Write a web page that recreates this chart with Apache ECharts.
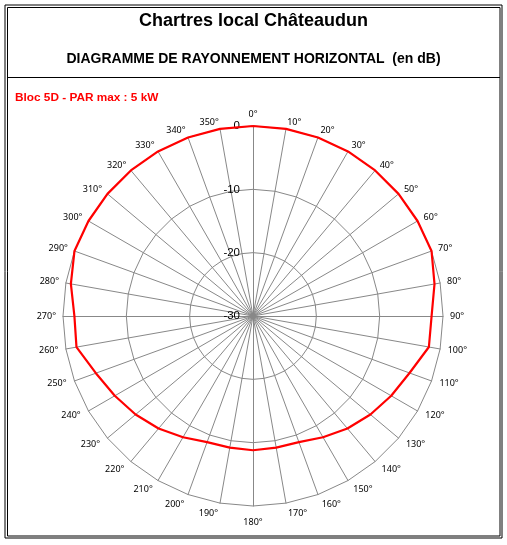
<!DOCTYPE html>
<html>
<head>
<meta charset="utf-8">
<script src="https://cdn.jsdelivr.net/npm/echarts@6/dist/echarts.min.js"></script>
<style>
html,body{margin:0;padding:0;background:#fff;}
#chart{width:507px;height:545px;}
</style>
</head>
<body>
<div id="chart"></div>
<script>
// Azimuth categories (degrees, clockwise from north)
const azimuths = [0,10,20,30,40,50,60,70,80,90,100,110,120,130,140,150,160,170,180,190,200,210,220,230,240,250,260,270,280,290,300,310,320,330,340,350];
// Relative attenuation in dB for each azimuth
const attenuation = [0,0,0,0,0,0,0,0,-0.9,-1.8,-1.8,-3.7,-4.8,-5.8,-6.8,-7.9,-8.8,-8.9,-8.8,-8.9,-8.8,-7.9,-6.8,-5.8,-4.8,-3.6,-1.7,-1.8,-0.8,0,0,0,0,0,0,0];
// Radial tick labels (dB)
const dbTicks = [0,-10,-20,-30];

const titleText = 'Chartres local Châteaudun';
const subtitleText = 'DIAGRAMME DE RAYONNEMENT HORIZONTAL  (en dB)';
const seriesName = 'Bloc 5D - PAR max : 5 kW';

// ECharts radar runs counter-clockwise: reorder so azimuths run clockwise
const order = azimuths.map((_, i) => (azimuths.length - i) % azimuths.length);
const dbMin = Math.min(...dbTicks), dbMax = Math.max(...dbTicks);

const indicators = order.map((idx, k) => {
  const az = azimuths[idx];
  const c = Math.cos(az * Math.PI / 180);
  const ind = { name: az + '°', min: dbMin, max: dbMax,
                nameGap: 7 + (az === 180 ? 0 : 4 * Math.max(0, -c)) };
  if (az > 90 && az < 270) {
    ind.nameTextStyle = { padding: [5, 0, 0, 0] };
  }
  if (k === 0) {
    ind.axisLabel = {
      show: true, color: '#000', fontFamily: 'Liberation Sans', fontSize: 11.5,
      margin: 13, showMinLabel: true, showMaxLabel: true
    };
  }
  return ind;
});
const values = order.map(idx => attenuation[idx]);

const chart = echarts.init(document.getElementById('chart'), null, { renderer: 'canvas' });
chart.setOption({
  backgroundColor: '#fff',
  animation: false,
  title: [
    { text: titleText, left: 'center', top: 7,
      textStyle: { fontFamily: 'Liberation Sans', fontWeight: 'bold', fontSize: 18, color: '#000' } },
    { text: subtitleText, left: 'center', top: 47,
      textStyle: { fontFamily: 'Liberation Sans', fontWeight: 'bold', fontSize: 14, color: '#000' } },
    { text: seriesName, left: 10, top: 86.5,
      textStyle: { fontFamily: 'Liberation Sans', fontWeight: 'bold', fontSize: 11.8, color: '#ff0000' } }
  ],
  graphic: [
    { type: 'rect', shape: { x: 5, y: 5, width: 497, height: 533 }, style: { fill: 'none', stroke: '#000', lineWidth: 1 }, silent: true },
    { type: 'rect', shape: { x: 7.5, y: 7.5, width: 492.5, height: 528.5 }, style: { fill: 'none', stroke: '#000', lineWidth: 1 }, silent: true },
    { type: 'line', shape: { x1: 7.5, y1: 77.5, x2: 500, y2: 77.5 }, style: { stroke: '#000', lineWidth: 1 }, silent: true }
  ],
  radar: {
    center: [253, 316],
    radius: 190,
    startAngle: 90,
    shape: 'polygon',
    splitNumber: dbTicks.length - 1,
    indicator: indicators,
    axisName: { color: '#000', fontFamily: 'Noto Sans', fontSize: 9 },
    nameGap: 7,
    axisLine: { lineStyle: { color: '#888', width: 1 } },
    splitLine: { lineStyle: { color: '#888', width: 1 } },
    splitArea: { show: false },
    axisTick: { show: false },
    axisLabel: { show: false }
  },
  series: [{
    type: 'radar',
    name: seriesName,
    symbol: 'none',
    lineStyle: { color: '#ff0000', width: 2.2 },
    itemStyle: { color: '#ff0000' },
    data: [{ value: values, name: seriesName }]
  }]
});
</script>
</body>
</html>
